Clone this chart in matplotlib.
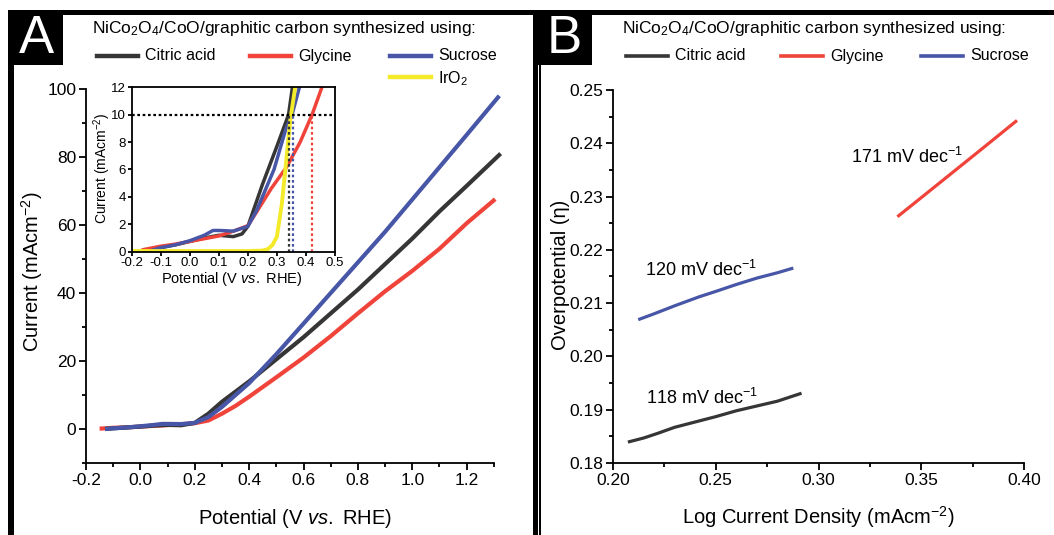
import matplotlib
matplotlib.use("Agg")
import matplotlib.pyplot as plt
from matplotlib.patches import Rectangle
from matplotlib.lines import Line2D
from matplotlib.ticker import MultipleLocator, FormatStrFormatter

plt.rcParams['font.family'] = ['Liberation Sans', 'DejaVu Sans']
plt.rcParams['mathtext.fontset'] = 'custom'
plt.rcParams['mathtext.rm'] = 'Liberation Sans'
plt.rcParams['mathtext.it'] = 'Liberation Sans:italic'
plt.rcParams['mathtext.bf'] = 'Liberation Sans:bold'

W, H = 1054, 535

# ---------------- data ----------------
series_names = ["Citric acid", "Glycine", "Sucrose"]
colors = {"Citric acid": "#363636", "Glycine": "#f0433a", "Sucrose": "#4756a6", "IrO2": "#f3ea2a"}

# Panel A main LSV curves
pot_citric = [-0.13, -0.10, -0.05, 0.00, 0.05, 0.10, 0.15, 0.20, 0.25, 0.30, 0.40, 0.50, 0.60,
              0.70, 0.80, 0.90, 1.00, 1.10, 1.20, 1.325]
cur_citric = [0.0, 0.2, 0.45, 0.7, 1.0, 1.2, 1.1, 1.8, 4.5, 8.0, 14.0, 20.5, 27.0,
              34.0, 41.0, 48.5, 56.0, 64.0, 71.5, 81.0]
pot_glycine = [-0.15, -0.10, -0.05, 0.00, 0.05, 0.10, 0.15, 0.20, 0.25, 0.30, 0.35, 0.40, 0.50,
               0.60, 0.70, 0.80, 0.90, 1.00, 1.10, 1.20, 1.305]
cur_glycine = [0.1, 0.35, 0.5, 0.7, 0.95, 1.15, 1.4, 1.7, 2.5, 4.5, 6.8, 9.5, 15.2,
               21.0, 27.3, 34.0, 40.5, 46.5, 53.0, 60.5, 67.6]
pot_sucrose = [-0.13, -0.10, -0.05, 0.00, 0.05, 0.08, 0.10, 0.15, 0.20, 0.25, 0.30, 0.40, 0.50,
               0.60, 0.70, 0.80, 0.90, 1.00, 1.10, 1.20, 1.32]
cur_sucrose = [0.0, 0.2, 0.45, 0.8, 1.2, 1.5, 1.5, 1.45, 1.8, 3.5, 6.5, 13.5, 22.0,
               31.0, 40.0, 49.0, 58.0, 67.5, 77.0, 86.5, 98.0]

# Panel A inset (zoomed LSV)
ins_pot_citric = [-0.15, -0.10, -0.05, 0.00, 0.05, 0.10, 0.15, 0.18, 0.20, 0.25, 0.30, 0.34, 0.36]
ins_cur_citric = [0.1, 0.3, 0.5, 0.75, 1.0, 1.2, 1.1, 1.3, 1.85, 4.9, 7.7, 10.0, 13.0]
ins_pot_glycine = [-0.16, -0.10, -0.05, 0.00, 0.05, 0.10, 0.15, 0.20, 0.23, 0.28, 0.334, 0.38, 0.421, 0.46]
ins_cur_glycine = [0.15, 0.4, 0.55, 0.75, 0.95, 1.15, 1.5, 1.9, 2.9, 4.6, 6.2, 8.0, 10.0, 12.3]
ins_pot_sucrose = [-0.13, -0.10, -0.05, 0.00, 0.05, 0.08, 0.10, 0.15, 0.20, 0.23, 0.29, 0.33, 0.352, 0.38]
ins_cur_sucrose = [0.1, 0.3, 0.5, 0.8, 1.2, 1.55, 1.55, 1.5, 1.85, 3.0, 6.0, 8.9, 10.0, 12.2]
ins_pot_iro2 = [-0.19, 0.00, 0.20, 0.25, 0.27, 0.285, 0.30, 0.317, 0.329, 0.346, 0.365]
ins_cur_iro2 = [0.05, 0.05, 0.05, 0.08, 0.2, 0.5, 1.1, 3.5, 6.0, 9.6, 12.3]
onset_level = 10.0
onset_pot = {"Citric acid": 0.341, "Sucrose": 0.355, "Glycine": 0.422}

# Panel B Tafel
log_citric = [0.208, 0.215, 0.222, 0.230, 0.240, 0.250, 0.260, 0.270, 0.280, 0.291]
eta_citric = [0.1840, 0.1847, 0.1856, 0.1867, 0.1877, 0.1887, 0.1898, 0.1907, 0.1916, 0.1930]
log_sucrose = [0.213, 0.220, 0.230, 0.242, 0.250, 0.260, 0.270, 0.280, 0.287]
eta_sucrose = [0.2070, 0.2080, 0.2095, 0.2112, 0.2122, 0.2135, 0.2147, 0.2157, 0.2165]
log_glycine = [0.339, 0.350, 0.360, 0.370, 0.380, 0.396]
eta_glycine = [0.2264, 0.2298, 0.2329, 0.2360, 0.2391, 0.2441]
tafel_labels = {"Citric acid": "118 mV dec$^{-1}$", "Sucrose": "120 mV dec$^{-1}$",
                "Glycine": "171 mV dec$^{-1}$"}

# ---------------- figure ----------------
fig = plt.figure(figsize=(W / 100, H / 100), dpi=100)
fig.patch.set_facecolor("white")


def rect_px(left, top, right, bottom):
    return [left / W, 1 - bottom / H, (right - left) / W, (bottom - top) / H]


def fpt(x, y):
    return x / W, 1 - y / H


def black_box(x0, y0, x1, y1):
    fig.add_artist(Rectangle((x0 / W, 1 - y1 / H), (x1 - x0) / W, (y1 - y0) / H,
                             transform=fig.transFigure, facecolor="black",
                             edgecolor="none", zorder=5))


# frame
black_box(8, 10, 1054, 15)
black_box(8, 10, 14, 535)
black_box(533, 10, 538, 535)
black_box(539, 60, 541, 535)
black_box(8, 10, 63, 65)
black_box(533, 10, 592, 65)
fig.text(*fpt(36, 39), "A", color="white", fontsize=38, ha="center", va="center", zorder=6)
fig.text(*fpt(564, 39), "B", color="white", fontsize=38, ha="center", va="center", zorder=6)

TICK = 12.5


def style_axis(ax, fs=TICK, full=False):
    for s in ["top", "right"]:
        ax.spines[s].set_visible(full)
    for s in ax.spines.values():
        s.set_linewidth(1.3)
    ax.tick_params(which="both", direction="out", width=1.3, labelsize=fs, pad=2)
    ax.tick_params(which="major", length=5)
    ax.tick_params(which="minor", length=3)


# ---- Panel A main ----
axA = fig.add_axes(rect_px(86, 89, 502, 463))
axA.plot(pot_glycine, cur_glycine, color=colors["Glycine"], lw=3, solid_capstyle="butt", clip_on=False)
axA.plot(pot_citric, cur_citric, color=colors["Citric acid"], lw=3, solid_capstyle="butt", clip_on=False)
axA.plot(pot_sucrose, cur_sucrose, color=colors["Sucrose"], lw=3, solid_capstyle="butt", clip_on=False)
axA.set_xlim(-0.2, 1.33)
axA.set_ylim(-10, 100)
axA.spines["bottom"].set_bounds(-0.2, 1.3)
axA.yaxis.set_major_locator(MultipleLocator(20))
axA.yaxis.set_minor_locator(MultipleLocator(10))
axA.set_xticks([x / 10 for x in range(-2, 13, 2)])
axA.set_xticks([x / 10 for x in range(-1, 14, 2)], minor=True)
axA.xaxis.set_major_formatter(FormatStrFormatter("%.1f"))
style_axis(axA)
fig.text(*fpt(32, 272), "Current (mAcm$^{-2}$)", rotation=90, fontsize=14.5, ha="center", va="center")
fig.text(*fpt(295, 518), "Potential (V $\\it{vs.}$ RHE)", fontsize=14.5, ha="center", va="center")

# ---- Panel A inset ----
axI = fig.add_axes(rect_px(131.7, 87.3, 335, 251.7))
axI.plot(ins_pot_citric, ins_cur_citric, color=colors["Citric acid"], lw=2.5)
axI.plot(ins_pot_glycine, ins_cur_glycine, color=colors["Glycine"], lw=2.5)
axI.plot(ins_pot_sucrose, ins_cur_sucrose, color=colors["Sucrose"], lw=2.5)
axI.plot(ins_pot_iro2, ins_cur_iro2, color=colors["IrO2"], lw=2.8)
axI.axhline(onset_level, color="black", ls=(0, (1.2, 1.2)), lw=1.6)
for name in ["Citric acid", "Sucrose", "Glycine"]:
    axI.plot([onset_pot[name], onset_pot[name]], [0, onset_level], color=colors[name],
             ls=(0, (1.2, 1.2)), lw=1.6)
axI.set_xlim(-0.2, 0.5)
axI.set_ylim(0, 12)
axI.xaxis.set_major_locator(MultipleLocator(0.1))
axI.yaxis.set_major_locator(MultipleLocator(2))
axI.xaxis.set_major_formatter(FormatStrFormatter("%.1f"))
style_axis(axI, fs=9.5, full=True)
axI.tick_params(which="major", length=3, pad=1)
fig.text(*fpt(102, 168), "Current (mAcm$^{-2}$)", rotation=90, fontsize=10, ha="center", va="center")
fig.text(*fpt(232, 279), "Potential (V $\\it{vs.}$ RHE)", fontsize=10.5, ha="center", va="center")

# ---- Panel A legend ----
title = "NiCo$_2$O$_4$/CoO/graphitic carbon synthesized using:"
fig.text(*fpt(92, 29), title, fontsize=12.5, ha="left", va="center")
legA = [("Citric acid", 97, 138, 56), ("Glycine", 250, 291, 56), ("Sucrose", 390, 431, 56),
        ("IrO2", 390, 431, 77)]
for name, x0, x1, y in legA:
    fig.add_artist(Line2D([x0 / W, x1 / W], [1 - y / H] * 2, transform=fig.transFigure,
                          color=colors[name], lw=3.2))
    label = "IrO$_2$" if name == "IrO2" else name
    fig.text(*fpt(x1 + 7, y + (2 if name == "IrO2" else 0)), label, fontsize=11.5, ha="left", va="center")

# ---- Panel B ----
axB = fig.add_axes(rect_px(613, 90, 1024, 463))
axB.plot(log_citric, eta_citric, color=colors["Citric acid"], lw=2.3)
axB.plot(log_sucrose, eta_sucrose, color=colors["Sucrose"], lw=2.3)
axB.plot(log_glycine, eta_glycine, color=colors["Glycine"], lw=2.3)
axB.set_xlim(0.20, 0.40)
axB.set_ylim(0.18, 0.25)
axB.xaxis.set_major_locator(MultipleLocator(0.05))
axB.xaxis.set_minor_locator(MultipleLocator(0.025))
axB.yaxis.set_major_locator(MultipleLocator(0.01))
axB.yaxis.set_minor_locator(MultipleLocator(0.005))
axB.xaxis.set_major_formatter(FormatStrFormatter("%.2f"))
axB.yaxis.set_major_formatter(FormatStrFormatter("%.2f"))
style_axis(axB)
axB.text(0.2433, 0.1922, tafel_labels["Citric acid"], fontsize=13, ha="center", va="center")
axB.text(0.2428, 0.2163, tafel_labels["Sucrose"], fontsize=13, ha="center", va="center")
axB.text(0.3430, 0.2374, tafel_labels["Glycine"], fontsize=13, ha="center", va="center")
fig.text(*fpt(560, 275), "Overpotential (η)", rotation=90, fontsize=14.5, ha="center", va="center")
fig.text(*fpt(818, 517), "Log Current Density (mAcm$^{-2}$)", fontsize=14.5, ha="center", va="center")

fig.text(*fpt(622, 29), title, fontsize=12.5, ha="left", va="center")
legB = [("Citric acid", 626, 668, 56), ("Glycine", 781, 823, 56), ("Sucrose", 921, 963, 56)]
for name, x0, x1, y in legB:
    fig.add_artist(Line2D([x0 / W, x1 / W], [1 - y / H] * 2, transform=fig.transFigure,
                          color=colors[name], lw=2.6))
    fig.text(*fpt(x1 + 7, y), name, fontsize=11.5, ha="left", va="center")

fig.savefig("out.png", dpi=100, facecolor="white")
